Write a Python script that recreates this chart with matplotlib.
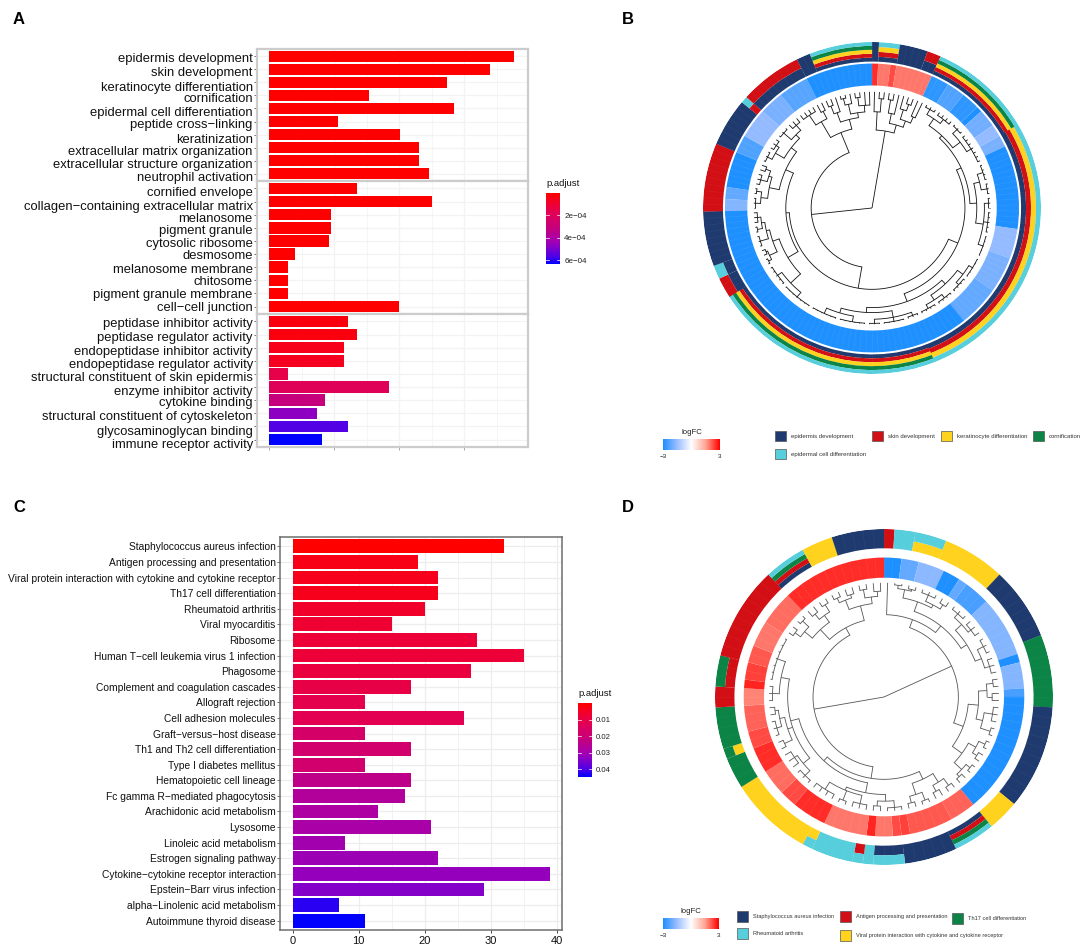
import numpy as np
import matplotlib
matplotlib.use('Agg')
import matplotlib.pyplot as plt
from matplotlib.colors import LinearSegmentedColormap, Normalize
from matplotlib.cm import ScalarMappable
from matplotlib.patches import Rectangle
from matplotlib.transforms import ScaledTranslation

plt.rcParams['font.family'] = ['Liberation Sans', 'DejaVu Sans']

# Panel A: GO terms, three facets
go_bp = ['epidermis development', 'skin development', 'keratinocyte differentiation', 'cornification',
         'epidermal cell differentiation', 'peptide cross\u2212linking', 'keratinization',
         'extracellular matrix organization', 'extracellular structure organization', 'neutrophil activation']
go_cc = ['cornified envelope', 'collagen\u2212containing extracellular matrix', 'melanosome', 'pigment granule',
         'cytosolic ribosome', 'desmosome', 'melanosome membrane', 'chitosome', 'pigment granule membrane',
         'cell\u2212cell junction']
go_mf = ['peptidase inhibitor activity', 'peptidase regulator activity', 'endopeptidase inhibitor activity',
         'endopeptidase regulator activity', 'structural constituent of skin epidermis', 'enzyme inhibitor activity',
         'cytokine binding', 'structural constituent of cytoskeleton', 'glycosaminoglycan binding',
         'immune receptor activity']
count_bp = [188, 170, 137, 77, 142, 53, 101, 115, 115, 123]
count_cc = [68, 125, 48, 48, 46, 20, 15, 15, 15, 100]
count_mf = [61, 68, 58, 58, 15, 92, 43, 37, 61, 41]
padj_bp = [1e-7, 1e-7, 1e-7, 1e-7, 1e-7, 1e-7, 1e-7, 1e-7, 1e-7, 1e-7]
padj_cc = [1e-7, 1e-6, 1e-6, 1e-6, 1e-6, 2e-6, 2e-6, 2e-6, 2e-6, 3e-6]
padj_mf = [3e-5, 3e-5, 5e-5, 6e-5, 1.5e-4, 1.9e-4, 3.1e-4, 4.7e-4, 5.6e-4, 6.35e-4]

# the labels of panel A sit a little below their bars, in pixels
nudge_bp = [1, 2, 4, 2, 3, 2, 4, 3, 3, 3]
nudge_cc = [3, 4, 3, 2, 2, 0, 1, 0, 0, 0]
nudge_mf = [1, 2, 3, 3, 3, 3, 1, 2, 4, 4]

# Panel C: KEGG pathways
kegg = ['Staphylococcus aureus infection', 'Antigen processing and presentation',
        'Viral protein interaction with cytokine and cytokine receptor', 'Th17 cell differentiation',
        'Rheumatoid arthritis', 'Viral myocarditis', 'Ribosome', 'Human T\u2212cell leukemia virus 1 infection',
        'Phagosome', 'Complement and coagulation cascades', 'Allograft rejection', 'Cell adhesion molecules',
        'Graft\u2212versus\u2212host disease', 'Th1 and Th2 cell differentiation', 'Type I diabetes mellitus',
        'Hematopoietic cell lineage', 'Fc gamma R\u2212mediated phagocytosis', 'Arachidonic acid metabolism',
        'Lysosome', 'Linoleic acid metabolism', 'Estrogen signaling pathway', 'Cytokine\u2212cytokine receptor interaction',
        'Epstein\u2212Barr virus infection', 'alpha\u2212Linolenic acid metabolism', 'Autoimmune thyroid disease']
count_kegg = [32, 19, 22, 22, 20, 15, 28, 35, 27, 18, 11, 26, 11, 18, 11, 18, 17, 13, 21, 8, 22, 39, 29, 7, 11]
padj_kegg = [0.0002, 0.003, 0.004, 0.004, 0.006, 0.007, 0.008, 0.008, 0.009, 0.010, 0.011, 0.012, 0.017, 0.018,
             0.018, 0.024, 0.027, 0.028, 0.029, 0.030, 0.031, 0.032, 0.034, 0.042, 0.0446]

# Panel B: genes clockwise from the top, as runs of (number of genes, value)
logfc_b = [(1, 2.6), (2, 1.9), (1, 2.3), (6, 1.9), (3, -2.8), (3, -2.4), (3, -2.8), (1, -3), (3, -2.0), (2, -1.6),
           (2, -1.9), (14, -3), (5, -1.6), (6, -1.9), (7, -2.2), (53, -3), (2, -1.8), (2, -2.2), (6, -3),
           (3, -2.4), (5, -1.6), (4, -1.9), (5, -2.3), (11, -3)]
terms_b = [(1, 'N'), (3, 'NRYC'), (4, 'N'), (2, 'NR'), (15, 'NRYGC'), (41, 'NRYC'), (33, 'NRYGC'), (3, 'NR'),
           (2, 'NC'), (8, 'N'), (10, 'R'), (7, 'N'), (1, 'RC'), (9, 'NR'), (2, 'N'), (9, 'NRYGC')]

# Panel B clustering: (merge radius, children), an int child is that many leaves
tree_b = (0, [
    (.47, [(.58, [1, (.66, [2])]),
           (.52, [(.58, [(.66, [2]), 1]),
                  (.56, [(.62, [1, (.66, [2])]), (.6, [2])])])]),
    (.36, [
        (.49, [
            (.55, [
                (.58, [(.60, [(.65, [(.685, [3]), (.68, [4])]), (.655, [(.69, [3]), (.685, [7])])]),
                       (.62, [(.655, [(.69, [4]), (.69, [3])]), (.665, [(.69, [3]), (.69, [5]), (.695, [5])])])]),
                (.60, [(.63, [(.67, [(.695, [5]), (.69, [4])]), (.665, [(.69, [4]), (.69, [4])])]),
                       (.63, [(.67, [(.69, [3]), (.695, [5]), (.695, [3])]), (.66, [(.695, [6]), (.695, [6])])])])]),
            (.51, [
                (.58, [(.66, [(.695, [7]), (.69, [5])]),
                       (.62, [(.67, [(.69, [2]), (.68, [2])]),
                              (.64, [(.69, [3]), (.66, [(.69, [2]), (.68, [3])])])])]),
                (.56, [(.62, [(.66, [(.69, [3]), (.69, [2])]), (.64, [(.68, [3]), (.67, [2])])]),
                       (.6, [(.66, [(.69, [3]), (.68, [3])]), (.63, [(.69, [3]), (.67, [3])])])])])]),
        (.49, [(.60, [(.67, [4]), (.65, [2])]),
               (.55, [(.61, [(.66, [2]), 1]),
                      (.58, [(.64, [(.68, [2]), 1]), (.62, [(.67, [2]), 2])])])])])])

# Panel D
logfc_d = [(2, -3), (2, -2.2), (3, -1.7), (2, -3), (1, -2.2), (3, -2.5), (7, -1.8), (1, -3), (3, -1.8), (1, -2.5),
           (14, -3), (3, 2.1), (5, 2.2), (1, 2.4), (1, 2.3), (2, 1.9), (1, 2.65), (5, 1.9), (4, 2.6), (2, 2.3),
           (3, 2.0), (3, 2.6), (2, 2.3), (3, 2.1), (2, 1.8), (1, 2.65), (2, 2.4), (2, 2.2), (3, 1.9), (4, 2.0),
           (12, 2.6)]
terms_d = [(1, 'A'), (2, 'R'), (3, 'VR'), (6, 'V'), (7, 'S'), (7, 'T'), (10, 'S'), (3, 'V'), (4, 'SATR'), (5, 'S'),
           (3, 'SR'), (1, 'R'), (1, 'AR'), (4, 'R'), (1, 'VR'), (8, 'V'), (3, 'T'), (1, 'VT'), (4, 'T'), (2, 'A'),
           (3, 'AT'), (9, 'A'), (4, 'SATR'), (3, 'V'), (5, 'S')]
tree_d = (0, [
    (.44, [
        (.49, [1,
               (.54, [(.60, [(.65, [(.67, [2]), (.66, [2])]), (.62, [(.66, [3]), (.65, [2])])]),
                      (.58, [(.63, [(.66, [3]), (.65, [3])]), (.62, [(.66, [3]), (.65, [3])])])])]),
        (.50, [(.56, [(.61, [(.65, [2]), (.64, [2])]), (.60, [(.65, [3]), (.66, [2])])]),
               (.57, [(.62, [(.66, [2]), (.65, [2])]), (.63, [(.66, [2]), (.65, [2])])])])]),
    (.42, [
        (.49, [
            (.54, [(.60, [(.65, [2]), (.64, [2])]), (.61, [(.66, [2]), (.65, [2])])]),
            (.52, [(.58, [(.62, [(.66, [3]), (.65, [2])]), (.60, [(.65, [3]), (.66, [2]), (.65, [4])])]),
                   (.57, [(.62, [(.66, [3]), (.64, [3])]), (.60, [(.65, [2]), (.63, [(.66, [3]), (.65, [2])])]),
                          (.62, [(.66, [3]), (.67, [7])])])])]),
        (.47, [(.55, [(.61, [(.65, [2]), (.66, [2])]), (.60, [(.64, [2]), (.65, [2])])]),
               (.56, [(.62, [(.65, [2]), (.64, [2])]), (.60, [(.65, [2]), (.63, [2])])])])])])

pal_b = {'N': '#1F3A6E', 'R': '#D20F14', 'Y': '#FFD21E', 'G': '#0B8445', 'C': '#57CEDC'}
pal_d = {'S': '#1F3A6E', 'A': '#D20F14', 'V': '#FFD21E', 'T': '#0B8445', 'R': '#57CEDC'}

W, H = 1084, 946
fig = plt.figure(figsize=(W / 100, H / 100), dpi=100, facecolor='white')


def px_axes(left, top, right, bottom, **kw):
    return fig.add_axes([left / W, 1 - bottom / H, (right - left) / W, (bottom - top) / H], **kw)


def px_text(x, y, s, **kw):
    fig.text(x / W, 1 - y / H, s, **kw)


padj_cmap = LinearSegmentedColormap.from_list('padj', [(0, '#FF0000'), (.25, '#E5004F'), (.5, '#C4007F'),
                                                       (.65, '#AA00A8'), (.75, '#8A00C4'), (.9, '#4A00E8'),
                                                       (1, '#0000FF')])
logfc_cmap = LinearSegmentedColormap.from_list('logfc', [(0, '#1E90FF'), (.25, '#9DBEFF'), (.5, '#FFFFFF'),
                                                         (.75, '#FFA593'), (1, '#FF0000')])
logfc_norm = Normalize(-3, 3)


def bar_facet(ax, labels, counts, padj, norm, fsize, xticks, xminor, edge, grid):
    y = np.arange(len(labels))
    ax.barh(y, counts, height=.88, color=padj_cmap(norm(np.array(padj))), zorder=3)
    ax.set_yticks(y)
    ax.set_yticklabels(labels, fontsize=fsize, color='#111111')
    ax.invert_yaxis()
    ax.set_xticks(xticks)
    ax.set_xticks(xminor, minor=True)
    ax.grid(True, which='major', color=grid, lw=.9, zorder=0)
    ax.grid(True, which='minor', axis='x', color=grid, lw=.5, zorder=0)
    ax.tick_params(which='minor', length=0)
    ax.tick_params(axis='y', length=2, width=.6, color='#555555', pad=1)
    for s in ax.spines.values():
        s.set_color(edge)


# ---- A ----
norm_a = Normalize(0, 6.35e-4)
facets = [(go_bp, count_bp, padj_bp, nudge_bp, 49, 181), (go_cc, count_cc, padj_cc, nudge_cc, 181, 314),
          (go_mf, count_mf, padj_mf, nudge_mf, 314, 447)]
for labels, counts, padj, nudge, top, bottom in facets:
    ax = px_axes(257, top, 528, bottom)
    bar_facet(ax, labels, counts, padj, norm_a, 9.4, [0, 50, 100, 150], [25, 75, 125, 175], '#CCCCCC', '#F3F3F3')
    ax.set_xlim(-9.2, 199)
    ax.set_ylim(9.56, -.56)
    for s in ax.spines.values():
        s.set_linewidth(1.6)
    ax.tick_params(axis='x', length=2, width=.6, color='#999999', labelbottom=False)
    for lab, d in zip(ax.get_yticklabels(), nudge):
        lab.set_transform(lab.get_transform() + ScaledTranslation(0, -d / 100, fig.dpi_scale_trans))

# ---- C ----
ax = px_axes(280, 537, 562, 930)
bar_facet(ax, kegg, count_kegg, padj_kegg, Normalize(0, .0446), 7.4, [0, 10, 20, 30, 40], [5, 15, 25, 35],
          '#6E6E6E', '#EDEDED')
ax.set_xlim(-1.9, 40.8)
ax.set_ylim(24.6, -.6)
ax.tick_params(axis='x', labelsize=8, length=2.5, width=.7, color='#444444', labelcolor='#111111', pad=1.5)
for s in ax.spines.values():
    s.set_linewidth(1.1)


# ---- p.adjust colour bars ----
def padj_bar(left, top, right, bottom, norm, ticks, ticklabels, title, fsize):
    cax = px_axes(left, top, right, bottom)
    cb = fig.colorbar(ScalarMappable(norm=norm, cmap=padj_cmap), cax=cax)
    cb.ax.invert_yaxis()
    cb.outline.set_visible(False)
    cb.set_ticks(ticks, labels=ticklabels)
    cb.ax.tick_params(length=0, labelsize=fsize, pad=3, labelcolor='#222222')
    for t in ticks:
        cb.ax.axhline(t, xmin=0, xmax=.2, color='white', lw=.5)
        cb.ax.axhline(t, xmin=.8, xmax=1, color='white', lw=.5)
    px_text(left, top - 9, title, fontsize=6.8, color='#111111', va='center')


padj_bar(546, 193, 560, 264, norm_a, [2e-4, 4e-4, 6e-4], ['2e\u221204', '4e\u221204', '6e\u221204'], 'p.adjust', 5.8)
padj_bar(578, 703, 592, 777, Normalize(0, .0446), [.01, .02, .03, .04], ['0.01', '0.02', '0.03', '0.04'],
         'p.adjust', 5.6)


# ---- circular plots ----
def draw_tree(ax, node, leaf_r, dtheta, state, color, lw):
    # returns the angle of this node, leaves are numbered clockwise
    r, children = node
    pos = []
    ends = []
    for c in children:
        if isinstance(c, int):
            for _ in range(c):
                pos.append((state[0] + .5) * dtheta)
                ends.append(leaf_r)
                state[0] += 1
        else:
            pos.append(draw_tree(ax, c, leaf_r, dtheta, state, color, lw))
            ends.append(c[0])
    for p, e in zip(pos, ends):
        ax.plot([p, p], [r, e], color=color, lw=lw, solid_capstyle='butt')
    if r > 0:
        t = np.linspace(pos[0], pos[-1], 60)
        ax.plot(t, np.full_like(t, r), color=color, lw=lw)
    return (pos[0] + pos[-1]) / 2


def circle_plot(box, logfc, terms, order, pal, tree, heat_r, ring_r, leaf_r, tree_col, tree_lw):
    ax = px_axes(*box, projection='polar')
    ax.set_aspect('auto')
    ax.set_theta_zero_location('N')
    ax.set_theta_direction(-1)
    ax.set_ylim(0, 1)
    ax.set_axis_off()
    total = sum(n for n, _ in logfc)
    dth = 2 * np.pi / total
    i = 0
    for n, v in logfc:
        ax.bar((i + n / 2) * dth, heat_r[1] - heat_r[0], width=n * dth * 1.004, bottom=heat_r[0],
               color=logfc_cmap(logfc_norm(v)), lw=0)
        i += n
    i = 0
    for n, s in terms:
        members = [k for k in order if k in s]
        h = (ring_r[1] - ring_r[0]) / len(members)
        for j, k in enumerate(members):
            ax.bar((i + n / 2) * dth, h, width=n * dth * 1.004, bottom=ring_r[0] + j * h, color=pal[k], lw=0)
        i += n
    # faint lines between the genes
    for g in range(total):
        ax.plot([g * dth, g * dth], [heat_r[0], heat_r[1]], color='white', alpha=.1, lw=.4)
        ax.plot([g * dth, g * dth], [ring_r[0], ring_r[1]], color='white', alpha=.06, lw=.4)
    draw_tree(ax, tree, leaf_r, dth, [0], tree_col, tree_lw)
    return ax


circle_plot((703, 42, 1041, 374), logfc_b, terms_b, 'NRYGC', pal_b, tree_b, (.738, .87), (.882, 1.0), .70,
            '#111111', .6)
circle_plot((715, 529, 1053, 865), logfc_d, terms_d, 'SAVTR', pal_d, tree_d, (.71, .83), (.885, 1.0), .68,
            '#555555', .6)


# ---- circle legends ----
def logfc_legend(left, top, right, bottom):
    cax = px_axes(left, top, right, bottom)
    cax.imshow(np.linspace(-3, 3, 200)[None, :], cmap=logfc_cmap, norm=logfc_norm, aspect='auto')
    cax.set_axis_off()
    px_text((left + right) / 2, top - 7, 'logFC', fontsize=5.6, ha='center', va='center', color='#222222')
    px_text(left, bottom + 6, '\u22123', fontsize=4.6, ha='center', va='center', color='#222222')
    px_text(right, bottom + 6, '3', fontsize=4.6, ha='center', va='center', color='#222222')


def swatch(x, y, color, label, fsize=4.3):
    fig.add_artist(Rectangle((x / W, 1 - (y + 10.5) / H), 10.5 / W, 10.5 / H, transform=fig.transFigure,
                             fc=color, ec='#555555', lw=.5))
    px_text(x + 16, y + 5.2, label, fontsize=fsize, va='center', color='#333333')


logfc_legend(663, 439, 720, 450)
logfc_legend(663, 918, 719, 929)

swatch(775, 431, pal_b['N'], 'epidermis development')
swatch(872, 431, pal_b['R'], 'skin development')
swatch(941, 431, pal_b['Y'], 'keratinocyte differentiation')
swatch(1033, 431, pal_b['G'], 'cornification')
swatch(775, 449, pal_b['C'], 'epidermal cell differentiation')

swatch(737, 911, pal_d['S'], 'Staphylococcus aureus infection', 4.05)
swatch(840, 911, pal_d['A'], 'Antigen processing and presentation', 4.05)
swatch(952, 913, pal_d['T'], 'Th17 cell differentiation', 4.05)
swatch(737, 928, pal_d['R'], 'Rheumatoid arthritis', 4.05)
swatch(840, 930, pal_d['V'], 'Viral protein interaction with cytokine and cytokine receptor', 4.05)

# panel letters
for x, y, s in [(19, 20, 'A'), (628, 20, 'B'), (19, 507, 'C'), (628, 507, 'D')]:
    px_text(x, y, s, fontsize=12, fontweight='bold', ha='center', va='center', color='black')

fig.savefig('out.png', dpi=100)
